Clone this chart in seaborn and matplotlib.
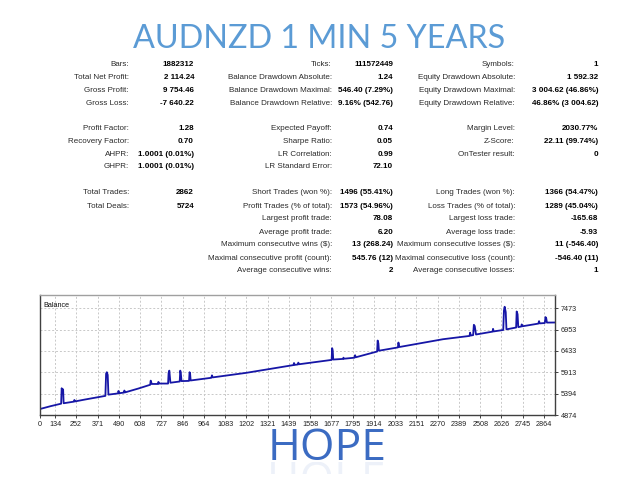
import matplotlib
matplotlib.use("Agg")
import matplotlib.pyplot as plt
import matplotlib.transforms as mtransforms
from matplotlib.textpath import TextPath
from matplotlib.patches import PathPatch, Rectangle
from matplotlib.font_manager import FontProperties
import seaborn as sns
import pandas as pd

# Report table (label, value) triples per row
rows_top = [
    ("Bars:", "1882312", "Ticks:", "111572449", "Symbols:", "1"),
    ("Total Net Profit:", "2 114.24", "Balance Drawdown Absolute:", "1.24", "Equity Drawdown Absolute:", "1 592.32"),
    ("Gross Profit:", "9 754.46", "Balance Drawdown Maximal:", "546.40 (7.29%)", "Equity Drawdown Maximal:", "3 004.62 (46.86%)"),
    ("Gross Loss:", "-7 640.22", "Balance Drawdown Relative:", "9.16% (542.76)", "Equity Drawdown Relative:", "46.86% (3 004.62)"),
]
rows_mid = [
    ("Profit Factor:", "1.28", "Expected Payoff:", "0.74", "Margin Level:", "2030.77%"),
    ("Recovery Factor:", "0.70", "Sharpe Ratio:", "0.05", "Z-Score:", "22.11 (99.74%)"),
    ("AHPR:", "1.0001 (0.01%)", "LR Correlation:", "0.99", "OnTester result:", "0"),
    ("GHPR:", "1.0001 (0.01%)", "LR Standard Error:", "72.10", "", ""),
]
rows_bot = [
    ("Total Trades:", "2862", "Short Trades (won %):", "1496 (55.41%)", "Long Trades (won %):", "1366 (54.47%)"),
    ("Total Deals:", "5724", "Profit Trades (% of total):", "1573 (54.96%)", "Loss Trades (% of total):", "1289 (45.04%)"),
    ("", "", "Largest profit trade:", "78.08", "Largest loss trade:", "-165.68"),
    ("", "", "Average profit trade:", "6.20", "Average loss trade:", "-5.93"),
    ("", "", "Maximum consecutive wins ($):", "13 (268.24)", "Maximum consecutive losses ($):", "11 (-546.40)"),
    ("", "", "Maximal consecutive profit (count):", "545.76 (12)", "Maximal consecutive loss (count):", "-546.40 (11)"),
    ("", "", "Average consecutive wins:", "2", "Average consecutive losses:", "1"),
]

# Balance curve (trade number, balance)
trade_no = [50, 110, 168, 171, 175, 179, 182, 240, 242, 246, 300,
            415, 419, 423, 428, 432, 486, 488, 492, 519, 521, 525, 600,
            665, 668, 674, 709, 711, 715, 765, 768, 772, 778,
            830, 833, 836, 840, 882, 885, 888, 891, 1006, 1010, 1014, 1200,
            1465, 1468, 1472, 1490, 1492, 1496,
            1678, 1681, 1684, 1687, 1742, 1744, 1748, 1806, 1809, 1813,
            1932, 1935, 1939, 1942, 2048, 2051, 2056, 2300,
            2448, 2451, 2455, 2468, 2472, 2477, 2484, 2577, 2579, 2583,
            2636, 2640, 2644, 2650, 2654, 2708, 2711, 2716, 2720,
            2737, 2739, 2743, 2832, 2836, 2840, 2868, 2872, 2876, 2880, 2925]
balance = [5020, 5090, 5150, 5526, 5460, 5500, 5160, 5200, 5240, 5205, 5250,
           5340, 5880, 5916, 5850, 5370, 5400, 5460, 5405, 5420, 5470, 5425, 5520,
           5610, 5711, 5630, 5630, 5680, 5640, 5640, 5900, 5955, 5660,
           5690, 5955, 5900, 5700, 5705, 5916, 5880, 5715, 5780, 5840, 5790, 5900,
           6090, 6140, 6095, 6105, 6150, 6110,
           6216, 6502, 6450, 6225, 6240, 6270, 6245, 6270, 6330, 6280,
           6420, 6688, 6620, 6440, 6520, 6639, 6530, 6720,
           6800, 6880, 6810, 6820, 7071, 7040, 6835, 6905, 6973, 6910,
           6945, 7420, 7511, 7380, 6960, 7005, 7396, 7330, 7015,
           7030, 7080, 7035, 7100, 7160, 7105, 7115, 7259, 7230, 7125, 7127]

x_ticks = [134, 252, 371, 490, 608, 727, 846, 964, 1083, 1202, 1321, 1439,
           1558, 1677, 1795, 1914, 2033, 2151, 2270, 2389, 2508, 2626, 2745, 2864]
y_ticks = [4874, 5394, 5913, 6433, 6953, 7473]
x_min, x_max = 50, 2925
y_min, y_max = 4874, 7797

sns.set_theme(style="white")
plt.rcParams['font.family'] = ['Liberation Sans', 'DejaVu Sans']

W, H = 640, 480
fig = plt.figure(figsize=(6.4, 4.8), dpi=100)
fig.patch.set_facecolor("white")


def px(x, y):
    return x / W, 1 - y / H


# title
fig.text(*px(319, 39), "AUDNZD 1 MIN 5 YEARS", family="Lato", fontsize=23.3,
         color="#5b9bd5", ha="center", va="center")

# table
col_lab = [129, 332, 515]
col_val = [194, 393, 598]
fs = 5.8


def draw_rows(rows, y0, dy=12.9):
    for i, r in enumerate(rows):
        y = y0 + i * dy
        for c in range(3):
            lab, val = r[2 * c], r[2 * c + 1]
            if lab:
                fig.text(*px(col_lab[c], y), lab, fontsize=fs, color="#2a2a2a",
                         ha="right", va="center")
            if val:
                fig.text(*px(col_val[c], y), val, fontsize=fs, color="black",
                         fontweight="bold", ha="right", va="center")


draw_rows(rows_top, 64.5)
draw_rows(rows_mid, 128.3)
draw_rows(rows_bot, 193.0, dy=13.0)

# balance chart
ax = fig.add_axes([40 / W, 65 / H, 515 / W, 120 / H])
df = pd.DataFrame({"trade": trade_no, "balance": balance})
sns.lineplot(data=df, x="trade", y="balance", ax=ax, color="#1616a6",
             linewidth=1.3, estimator=None)
ax.set_xlim(x_min, x_max)
ax.set_ylim(y_min, y_max)
ax.set_xticks([x_min] + x_ticks)
ax.set_xticklabels(["0"] + [str(t) for t in x_ticks])
ax.set_yticks(y_ticks)
ax.yaxis.tick_right()
ax.set_xlabel("")
ax.set_ylabel("")
ax.tick_params(axis="both", labelsize=5.2, colors="#222222", length=2.5,
               width=0.6, pad=1.5, direction="out")
ax.tick_params(axis="x", bottom=True)
ax.tick_params(axis="y", right=True, left=False)
ax.grid(True, color="#c8c8c8", linestyle=(0, (2, 2)), linewidth=0.7)
for s in ["left", "bottom", "right"]:
    ax.spines[s].set_color("#404040")
    ax.spines[s].set_linewidth(1.0)
ax.spines["top"].set_color("#a0a0a0")
ax.spines["top"].set_linewidth(1.0)
ax.text(0.006, 0.94, "Balance", transform=ax.transAxes, fontsize=5.2,
        color="#111111", ha="left", va="top")

# HOPE with faint reflection
hope_x, hope_base = 327, 460
fig.text(*px(hope_x, hope_base), "HOPE", family="Open Sans", fontsize=32,
         color="#3b6bc2", ha="center", va="baseline")
fp = FontProperties(family="Open Sans")
tp = TextPath((0, 0), "HOPE", prop=fp, size=32 * 100 / 72)
ext = tp.get_extents()
tr = (mtransforms.Affine2D()
      .translate(-(ext.x0 + ext.x1) / 2, 0)
      .scale(1, -1)
      .translate(hope_x, H - hope_base - 2))
refl = PathPatch(tp, transform=tr, facecolor="#3b6bc2", edgecolor="none",
                 alpha=0.09)
fig.add_artist(refl)
clip = Rectangle((0, 0), W, H - hope_base - 2 - 0, transform=None)
clip_top = Rectangle((0, H - 480 + 6), W, H - hope_base - 2 - 6,
                     transform=mtransforms.IdentityTransform())
refl.set_clip_path(clip_top)

fig.savefig("out.png", dpi=100, facecolor="white")
